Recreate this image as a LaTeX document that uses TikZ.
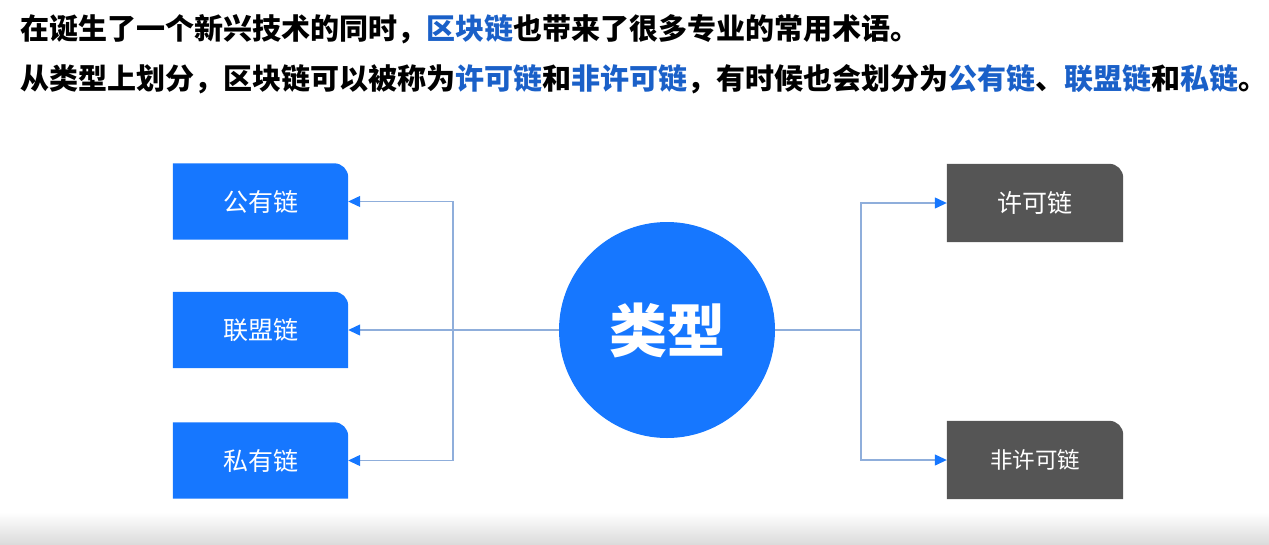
\documentclass[tikz,border=0pt]{standalone}
\usepackage{fontspec}
\setmainfont{Noto Sans CJK SC}
\usepackage{tikz}
\usetikzlibrary{arrows.meta}
\usetikzlibrary{backgrounds}
\usetikzlibrary{positioning}
\definecolor{mblue}{HTML}{1677FF}
\definecolor{mgrey}{HTML}{555555}
\definecolor{mline}{HTML}{8FAEDB}
\definecolor{mtext}{HTML}{1A60C8}
\tikzset{chainbox/.style = {minimum width=175pt, minimum height=76pt, inner sep=0pt,
                            text=white, font=\fontsize{25}{25}\selectfont},
         heading/.style = {anchor=west, font=\fontsize{29}{29}\selectfont\bfseries},
         link/.style = {mline, line width=1.2pt},
         pointer/.style = {-{Triangle[length=12pt, width=11pt, color=mblue]}}}

\begin{document}
\begin{tikzpicture}[x=1pt, y=-1pt]
      \useasboundingbox (0, 0) rectangle (1269, 544);
      \shade [top color=white, bottom color=black!14] (0, 512) rectangle (1269, 544);

      \node [heading] (line1) at (17, 29)
        {在诞生了一个新兴技术的同时，\textcolor{mtext}{区块链}也带来了很多专业的常用术语。};
      \node [heading] (line2) at (17, 79)
        {从类型上划分，区块链可以被称为\textcolor{mtext}{许可链}和\textcolor{mtext}{非许可链}，有时候也会划分为\textcolor{mtext}{公有链}、\textcolor{mtext}{联盟链}和\textcolor{mtext}{私链}。};

      \node [circle, fill=mblue, minimum size=216pt, text=white,
             font=\fontsize{58}{58}\selectfont\bfseries] (type) at (667, 330) {类型};

      \node [chainbox] (pub) at (260.5, 201.5) {公有链};
      \node [chainbox] (ally) at (260.5, 330) {联盟链};
      \node [chainbox] (pri) at (260.5, 460.5) {私有链};
      \node [chainbox, minimum width=176pt, minimum height=78pt] (perm) at (1035, 203) {许可链};
      \node [chainbox, minimum width=176pt, minimum height=78pt,
             font=\fontsize{22.5}{22.5}\selectfont] (nonperm) at (1035, 460) {非许可链};

      \begin{scope}[on background layer]
        \foreach \nd/\col in {pub/mblue, ally/mblue, pri/mblue, perm/mgrey, nonperm/mgrey}
          \fill [\col] (\nd.south west) -- (\nd.north west) -- ([xshift=-14pt]\nd.north east)
                arc [start angle=90, end angle=0, radius=14pt] -- (\nd.south east) -- cycle;
      \end{scope}

      \coordinate (ljoin) at (453, 330);
      \coordinate (rjoin) at (861, 330);

      \draw [link, pointer] (type.west) -- (ally.east);
      \draw [link, pointer] (ljoin) |- (pub.east);
      \draw [link, pointer] (ljoin) |- (pri.east);

      \draw [link] (type.east) -- (rjoin);
      \draw [link, pointer] (rjoin) |- (perm.west);
      \draw [link, pointer] (rjoin) |- (nonperm.west);
    \end{tikzpicture}
\end{document}
